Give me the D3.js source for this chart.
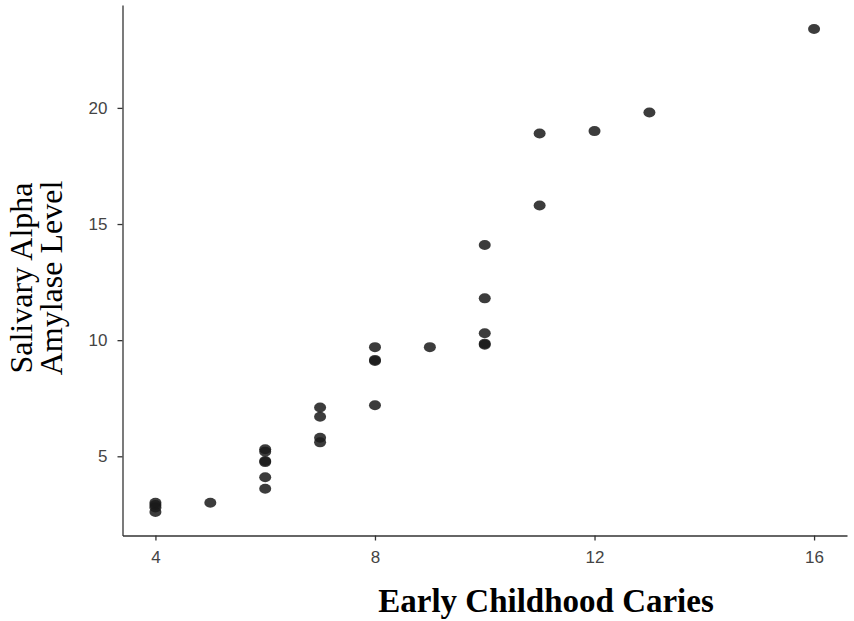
<!DOCTYPE html>
<html>
<head>
<meta charset="utf-8">
<script src="https://cdn.jsdelivr.net/npm/d3@7"></script>
<style>
  body { margin: 0; background: #fff; }
</style>
</head>
<body>
<svg id="chart" width="854" height="621"></svg>
<script>
// caries count vs amylase level
var caries  = [4, 4, 4, 4, 5, 6, 6, 6, 6, 6, 6, 7, 7, 7, 7, 8, 8, 8, 8, 9, 10, 10, 10, 10, 10, 11, 11, 12, 13, 16];
var amylase = [3.0, 2.9, 2.8, 2.6, 3.0, 5.3, 5.2, 4.8, 4.75, 4.1, 3.6, 7.1, 6.7, 5.8, 5.6, 9.7, 9.1, 9.15, 7.2, 9.7, 14.1, 11.8, 10.3, 9.8, 9.85, 18.9, 15.8, 19.0, 19.8, 23.4];
var xTicks = [4, 8, 12, 16];
var yTicks = [5, 10, 15, 20];

var svg = d3.select('#chart');
var plotL = 122.5, plotR = 847, plotT = 5, plotB = 535.5;

var x = d3.scaleLinear().domain([3.4, 16.6]).range([plotL, plotR]);
var y = d3.scaleLinear().domain([1.59, 24.43]).range([plotB, plotT]);

var styleAxis = function(g) {
  g.selectAll('path, line').style('stroke', '#333').style('stroke-width', 1.3);
  g.selectAll('text')
    .style('font-family', '"Liberation Sans", Arial, sans-serif')
    .style('font-size', '17px')
    .style('fill', '#444');
};

svg.append('g')
  .attr('transform', 'translate(0,' + plotB + ')')
  .call(d3.axisBottom(x).tickValues(xTicks).tickSize(5).tickPadding(10).tickSizeOuter(0))
  .call(styleAxis);

svg.append('g')
  .attr('transform', 'translate(' + plotL + ',0)')
  .call(d3.axisLeft(y).tickValues(yTicks).tickSize(5).tickPadding(10).tickSizeOuter(0))
  .call(styleAxis);

// points
svg.append('g').selectAll('ellipse')
  .data(caries)
  .enter().append('ellipse')
  .attr('cx', function(d) { return x(d); })
  .attr('cy', function(d, i) { return y(amylase[i]); })
  .attr('rx', 6)
  .attr('ry', 5)
  .style('fill', '#1a1a1a')
  .style('opacity', 0.85);

// axis titles
svg.append('text')
  .attr('x', 546)
  .attr('y', 612)
  .attr('text-anchor', 'middle')
  .style('font-family', '"Liberation Serif", "Times New Roman", serif')
  .style('font-weight', 'bold')
  .style('font-size', '33px')
  .text('Early Childhood Caries');

var ylab = svg.append('text')
  .attr('transform', 'translate(0,278) rotate(-90)')
  .attr('text-anchor', 'middle')
  .style('font-family', '"Liberation Serif", "Times New Roman", serif')
  .style('font-size', '32px');
ylab.append('tspan').attr('x', 0).attr('y', 32).text('Salivary Alpha');
ylab.append('tspan').attr('x', 0).attr('y', 62).text('Amylase Level');
</script>
</body>
</html>
